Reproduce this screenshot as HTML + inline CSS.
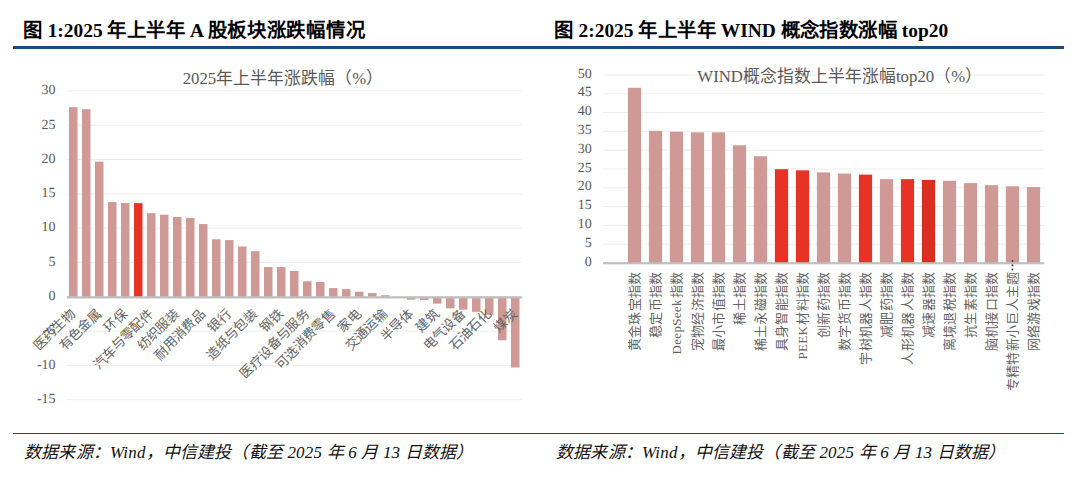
<!DOCTYPE html>
<html lang="zh-CN"><head><meta charset="utf-8"><title>chart</title>
<style>
html,body{margin:0;padding:0;background:#fff;}
body{width:1080px;height:477px;position:relative;overflow:hidden;font-family:"Liberation Serif",serif;}
.hd{position:absolute;top:17px;font-weight:bold;font-size:19.4px;line-height:28px;color:#000;white-space:nowrap;}
.src{position:absolute;top:441px;letter-spacing:.18px;font-style:italic;font-size:17px;line-height:24px;color:#111;white-space:nowrap;}
.ln{position:absolute;background:#1B4A7B;}
svg{position:absolute;left:0;top:0;}
svg text{font-family:"Liberation Serif",serif;fill:#595959;font-weight:300;}
.yl{font-size:14px;text-rendering:geometricPrecision;}
.cl{font-size:13.2px;fill:#646464;}
.cr{font-size:13px;letter-spacing:.3px;fill:#646464;}
.tt{font-size:16.8px;}
.tt2{font-size:16.8px;}
.cj{letter-spacing:.4px}
</style></head><body>
<div class="hd" style="left:23.4px"><span class="cj">图</span> 1:2025 <span class="cj">年上半年</span> A <span class="cj" style="letter-spacing:.7px">股板块涨跌幅情况</span></div>
<div class="hd" style="left:554.3px"><span class="cj">图</span> 2:2025 <span class="cj">年上半年</span> WIND <span class="cj">概念指数涨幅</span> top20</div>
<div class="ln" style="left:13px;top:46px;width:1051px;height:3px"></div>
<svg width="1080" height="477" viewBox="0 0 1080 477">
<rect x="66.8" y="90.41" width="455" height="1" fill="#EDEDED"/>
<rect x="66.8" y="124.72" width="455" height="1" fill="#EDEDED"/>
<rect x="66.8" y="159.04" width="455" height="1" fill="#EDEDED"/>
<rect x="66.8" y="193.36" width="455" height="1" fill="#EDEDED"/>
<rect x="66.8" y="227.67" width="455" height="1" fill="#EDEDED"/>
<rect x="66.8" y="261.99" width="455" height="1" fill="#EDEDED"/>
<rect x="66.8" y="330.62" width="455" height="1" fill="#EDEDED"/>
<rect x="66.8" y="364.93" width="455" height="1" fill="#EDEDED"/>
<rect x="66.8" y="399.25" width="455" height="1" fill="#EDEDED"/>
<rect x="69" y="107.18" width="8.5" height="189.62" fill="#CF9995"/>
<rect x="82" y="109.23" width="8.5" height="187.57" fill="#CF9995"/>
<rect x="95" y="161.67" width="8.5" height="135.13" fill="#CF9995"/>
<rect x="108" y="202.09" width="8.5" height="94.71" fill="#CF9995"/>
<rect x="121" y="202.98" width="8.5" height="93.82" fill="#CF9995"/>
<rect x="134" y="203.12" width="8.5" height="93.68" fill="#E73226"/>
<rect x="147" y="213.21" width="8.5" height="83.59" fill="#CF9995"/>
<rect x="160" y="214.72" width="8.5" height="82.08" fill="#CF9995"/>
<rect x="173" y="216.98" width="8.5" height="79.82" fill="#CF9995"/>
<rect x="186" y="217.88" width="8.5" height="78.92" fill="#CF9995"/>
<rect x="199" y="224.05" width="8.5" height="72.75" fill="#CF9995"/>
<rect x="212" y="239.29" width="8.5" height="57.51" fill="#CF9995"/>
<rect x="225" y="240.11" width="8.5" height="56.69" fill="#CF9995"/>
<rect x="238" y="246.49" width="8.5" height="50.31" fill="#CF9995"/>
<rect x="251" y="251.23" width="8.5" height="45.57" fill="#CF9995"/>
<rect x="264" y="267.08" width="8.5" height="29.72" fill="#CF9995"/>
<rect x="277" y="267.08" width="8.5" height="29.72" fill="#CF9995"/>
<rect x="290" y="270.93" width="8.5" height="25.87" fill="#CF9995"/>
<rect x="303" y="281.29" width="8.5" height="15.51" fill="#CF9995"/>
<rect x="316" y="281.98" width="8.5" height="14.82" fill="#CF9995"/>
<rect x="329" y="288.08" width="8.5" height="8.72" fill="#CF9995"/>
<rect x="342" y="289.11" width="8.5" height="7.69" fill="#CF9995"/>
<rect x="355" y="291.72" width="8.5" height="5.08" fill="#CF9995"/>
<rect x="368" y="293.09" width="8.5" height="3.71" fill="#CF9995"/>
<rect x="381" y="295.22" width="8.5" height="1.58" fill="#CF9995"/>
<rect x="394" y="296.59" width="8.5" height="0.21" fill="#CF9995"/>
<rect x="407" y="296.8" width="8.5" height="2.88" fill="#CF9995"/>
<rect x="420" y="296.8" width="8.5" height="3.16" fill="#CF9995"/>
<rect x="433" y="296.8" width="8.5" height="6.86" fill="#CF9995"/>
<rect x="446" y="296.8" width="8.5" height="11.6" fill="#CF9995"/>
<rect x="459" y="296.8" width="8.5" height="12.83" fill="#CF9995"/>
<rect x="472" y="296.8" width="8.5" height="15.03" fill="#CF9995"/>
<rect x="485" y="296.8" width="8.5" height="17.98" fill="#CF9995"/>
<rect x="498" y="296.8" width="8.5" height="43.51" fill="#CF9995"/>
<rect x="511" y="296.8" width="8.5" height="70.69" fill="#CF9995"/>
<rect x="66.8" y="296.2" width="455" height="2.3" fill="#BFBFBF"/>
<text x="55.6" y="94.21" text-anchor="end" class="yl">30</text>
<text x="55.6" y="128.53" text-anchor="end" class="yl">25</text>
<text x="55.6" y="162.84" text-anchor="end" class="yl">20</text>
<text x="55.6" y="197.16" text-anchor="end" class="yl">15</text>
<text x="55.6" y="231.47" text-anchor="end" class="yl">10</text>
<text x="55.6" y="265.79" text-anchor="end" class="yl">5</text>
<text x="55.6" y="300.1" text-anchor="end" class="yl">0</text>
<text x="55.6" y="334.42" text-anchor="end" class="yl">-5</text>
<text x="55.6" y="368.73" text-anchor="end" class="yl">-10</text>
<text x="55.6" y="403.05" text-anchor="end" class="yl">-15</text>
<text transform="translate(75.75,314.6) rotate(-45)" text-anchor="end" class="cl">医药生物</text>
<text transform="translate(101.75,314.6) rotate(-45)" text-anchor="end" class="cl">有色金属</text>
<text transform="translate(127.75,314.6) rotate(-45)" text-anchor="end" class="cl">环保</text>
<text transform="translate(153.75,314.6) rotate(-45)" text-anchor="end" class="cl">汽车与零配件</text>
<text transform="translate(179.75,314.6) rotate(-45)" text-anchor="end" class="cl">纺织服装</text>
<text transform="translate(205.75,314.6) rotate(-45)" text-anchor="end" class="cl">耐用消费品</text>
<text transform="translate(231.75,314.6) rotate(-45)" text-anchor="end" class="cl">银行</text>
<text transform="translate(257.75,314.6) rotate(-45)" text-anchor="end" class="cl">造纸与包装</text>
<text transform="translate(283.75,314.6) rotate(-45)" text-anchor="end" class="cl">钢铁</text>
<text transform="translate(309.75,314.6) rotate(-45)" text-anchor="end" class="cl">医疗设备与服务</text>
<text transform="translate(335.75,314.6) rotate(-45)" text-anchor="end" class="cl">可选消费零售</text>
<text transform="translate(361.75,314.6) rotate(-45)" text-anchor="end" class="cl">家电</text>
<text transform="translate(387.75,314.6) rotate(-45)" text-anchor="end" class="cl">交通运输</text>
<text transform="translate(413.75,314.6) rotate(-45)" text-anchor="end" class="cl">半导体</text>
<text transform="translate(439.75,314.6) rotate(-45)" text-anchor="end" class="cl">建筑</text>
<text transform="translate(465.75,314.6) rotate(-45)" text-anchor="end" class="cl">电气设备</text>
<text transform="translate(491.75,314.6) rotate(-45)" text-anchor="end" class="cl">石油石化</text>
<text transform="translate(517.75,314.6) rotate(-45)" text-anchor="end" class="cl">煤炭</text>
<text x="182.7" y="84" class="tt">2025年上半年涨跌幅（%）</text>
<rect x="603" y="74.5" width="441.2" height="1" fill="#EDEDED"/>
<rect x="603" y="93.3" width="441.2" height="1" fill="#EDEDED"/>
<rect x="603" y="112.1" width="441.2" height="1" fill="#EDEDED"/>
<rect x="603" y="130.9" width="441.2" height="1" fill="#EDEDED"/>
<rect x="603" y="149.7" width="441.2" height="1" fill="#EDEDED"/>
<rect x="603" y="168.5" width="441.2" height="1" fill="#EDEDED"/>
<rect x="603" y="187.3" width="441.2" height="1" fill="#EDEDED"/>
<rect x="603" y="206.1" width="441.2" height="1" fill="#EDEDED"/>
<rect x="603" y="224.9" width="441.2" height="1" fill="#EDEDED"/>
<rect x="603" y="243.7" width="441.2" height="1" fill="#EDEDED"/>
<rect x="627.9" y="87.78" width="13.2" height="175.22" fill="#CF9995"/>
<rect x="648.9" y="130.84" width="13.2" height="132.16" fill="#CF9995"/>
<rect x="669.9" y="131.78" width="13.2" height="131.22" fill="#CF9995"/>
<rect x="690.9" y="132.34" width="13.2" height="130.66" fill="#CF9995"/>
<rect x="711.9" y="132.34" width="13.2" height="130.66" fill="#CF9995"/>
<rect x="732.9" y="145.31" width="13.2" height="117.69" fill="#CF9995"/>
<rect x="753.9" y="156.22" width="13.2" height="106.78" fill="#CF9995"/>
<rect x="774.9" y="169.19" width="13.2" height="93.81" fill="#E73226"/>
<rect x="795.9" y="170.32" width="13.2" height="92.68" fill="#E73226"/>
<rect x="816.9" y="172.38" width="13.2" height="90.62" fill="#CF9995"/>
<rect x="837.9" y="173.51" width="13.2" height="89.49" fill="#CF9995"/>
<rect x="858.9" y="174.64" width="13.2" height="88.36" fill="#E73226"/>
<rect x="879.9" y="179.15" width="13.2" height="83.85" fill="#CF9995"/>
<rect x="900.9" y="179.15" width="13.2" height="83.85" fill="#E73226"/>
<rect x="921.9" y="179.9" width="13.2" height="83.1" fill="#D92E20"/>
<rect x="942.9" y="180.81" width="13.2" height="82.19" fill="#CF9995"/>
<rect x="963.9" y="183.1" width="13.2" height="79.9" fill="#CF9995"/>
<rect x="984.9" y="185.17" width="13.2" height="77.83" fill="#CF9995"/>
<rect x="1005.9" y="186.3" width="13.2" height="76.7" fill="#CF9995"/>
<rect x="1026.9" y="187.05" width="13.2" height="75.95" fill="#CF9995"/>
<rect x="603" y="262.2" width="441.2" height="2.1" fill="#BFBFBF"/>
<text x="591.8" y="77.6" text-anchor="end" class="yl">50</text>
<text x="591.8" y="96.4" text-anchor="end" class="yl">45</text>
<text x="591.8" y="115.2" text-anchor="end" class="yl">40</text>
<text x="591.8" y="134" text-anchor="end" class="yl">35</text>
<text x="591.8" y="152.8" text-anchor="end" class="yl">30</text>
<text x="591.8" y="171.6" text-anchor="end" class="yl">25</text>
<text x="591.8" y="190.4" text-anchor="end" class="yl">20</text>
<text x="591.8" y="209.2" text-anchor="end" class="yl">15</text>
<text x="591.8" y="228" text-anchor="end" class="yl">10</text>
<text x="591.8" y="246.8" text-anchor="end" class="yl">5</text>
<text x="591.8" y="265.6" text-anchor="end" class="yl">0</text>
<text transform="translate(639,271.5) rotate(-90)" text-anchor="end" class="cr">黄金珠宝指数</text>
<text transform="translate(660,271.5) rotate(-90)" text-anchor="end" class="cr">稳定币指数</text>
<text transform="translate(681,271.5) rotate(-90)" text-anchor="end" class="cr">DeepSeek<tspan dx="1.2">指数</tspan></text>
<text transform="translate(702,271.5) rotate(-90)" text-anchor="end" class="cr">宠物经济指数</text>
<text transform="translate(723,271.5) rotate(-90)" text-anchor="end" class="cr">最小市值指数</text>
<text transform="translate(744,271.5) rotate(-90)" text-anchor="end" class="cr">稀土指数</text>
<text transform="translate(765,271.5) rotate(-90)" text-anchor="end" class="cr">稀土永磁指数</text>
<text transform="translate(786,271.5) rotate(-90)" text-anchor="end" class="cr">具身智能指数</text>
<text transform="translate(807,271.5) rotate(-90)" text-anchor="end" class="cr">PEEK<tspan dx="1.2">材料指数</tspan></text>
<text transform="translate(828,271.5) rotate(-90)" text-anchor="end" class="cr">创新药指数</text>
<text transform="translate(849,271.5) rotate(-90)" text-anchor="end" class="cr">数字货币指数</text>
<text transform="translate(870,271.5) rotate(-90)" text-anchor="end" class="cr">宇树机器人指数</text>
<text transform="translate(891,271.5) rotate(-90)" text-anchor="end" class="cr">减肥药指数</text>
<text transform="translate(912,271.5) rotate(-90)" text-anchor="end" class="cr">人形机器人指数</text>
<text transform="translate(933,271.5) rotate(-90)" text-anchor="end" class="cr">减速器指数</text>
<text transform="translate(954,271.5) rotate(-90)" text-anchor="end" class="cr">离境退税指数</text>
<text transform="translate(975,271.5) rotate(-90)" text-anchor="end" class="cr">抗生素指数</text>
<text transform="translate(996,271.5) rotate(-90)" text-anchor="end" class="cr">脑机接口指数</text>
<text transform="translate(1017,271.5) rotate(-90)" text-anchor="end" class="cr">专精特新小巨人主题</text>
<text transform="translate(1038,271.5) rotate(-90)" text-anchor="end" class="cr">网络游戏指数</text>
<circle cx="1012.4" cy="260.9" r="0.95" fill="#3a3a3a"/>
<circle cx="1012.4" cy="265.2" r="0.95" fill="#3a3a3a"/>
<circle cx="1012.4" cy="269.5" r="0.95" fill="#3a3a3a"/>
<text x="697.3" y="81.6" class="tt2">WIND概念指数上半年涨幅top20（%）</text>
</svg>
<div class="ln" style="left:13px;top:432.6px;width:1051px;height:1.6px"></div>
<div class="src" style="left:24px">数据来源：Wind，中信建投（截至 2025 年 6 月 13 日数据）</div>
<div class="src" style="left:556px">数据来源：Wind，中信建投（截至 2025 年 6 月 13 日数据）</div>
</body></html>
